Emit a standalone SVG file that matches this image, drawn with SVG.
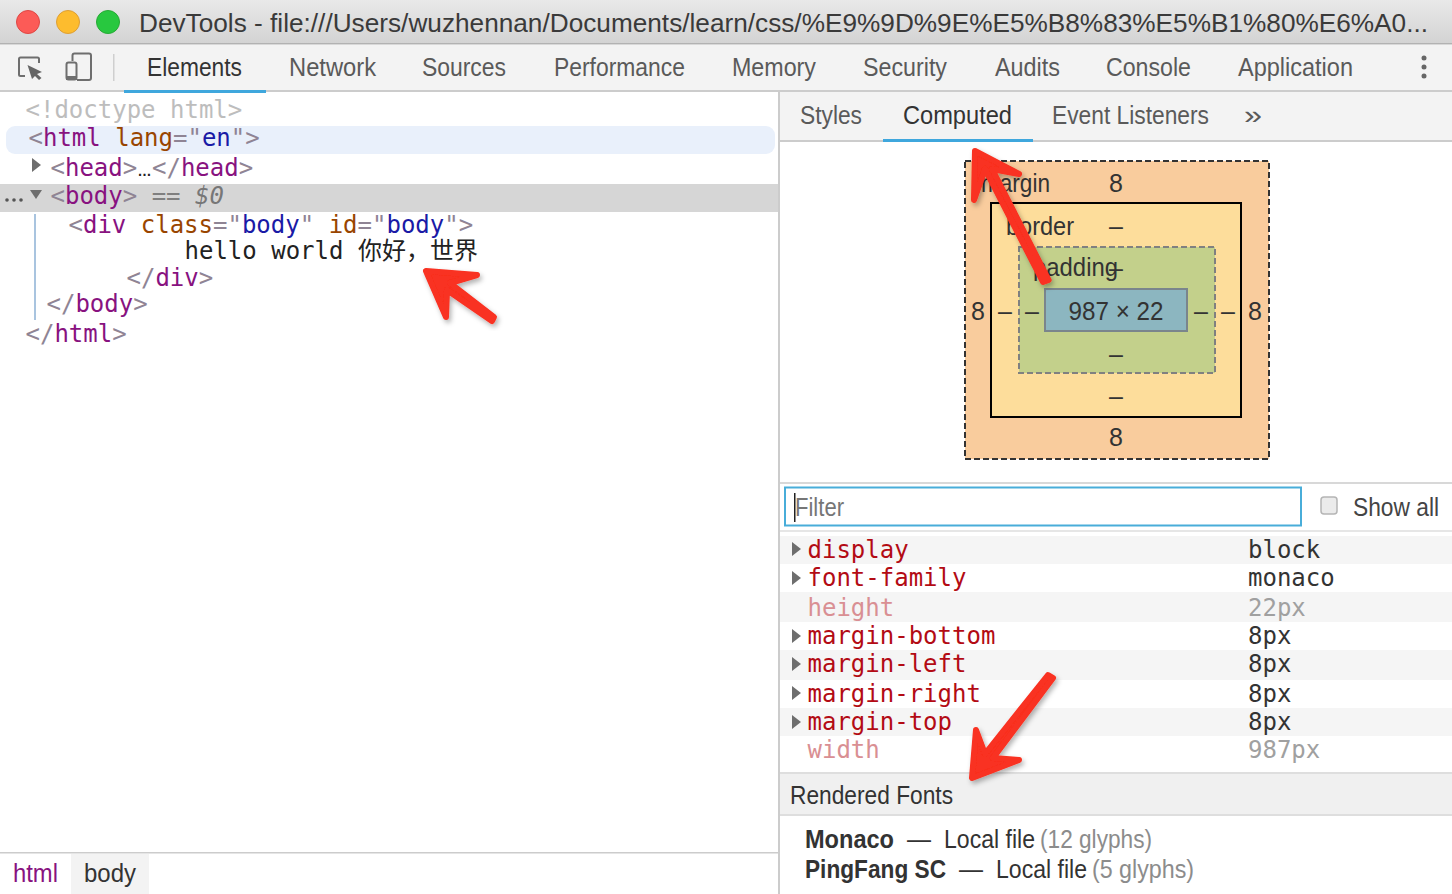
<svg xmlns="http://www.w3.org/2000/svg" width="1452" height="894" viewBox="0 0 1452 894">
<style>
.ui{font-family:"Liberation Sans",Arial,sans-serif;font-size:25px;fill:#333}
.tab{fill:#5a5a5a}
.active{fill:#333}
.m{font-family:"DejaVu Sans Mono","Noto Sans CJK SC",monospace;font-size:24px;white-space:pre}
.b{fill:#8f8494}.t{fill:#881280}.a{fill:#994500}.v{fill:#1a1aa6}.x{fill:#222}
.p{fill:#b30b14}.pd{fill:#d98f93}.val{fill:#333}.vd{fill:#a0a0a0}
.bm{font-family:"Liberation Sans",Arial,sans-serif;font-size:25px;fill:#333;text-anchor:middle}
.tri{fill:#6e6e6e}
.arrow{fill:#f93020;stroke:#f93020;stroke-width:6;stroke-linejoin:round;filter:url(#sh)}
</style>
<defs>
<linearGradient id="tb" x1="0" y1="0" x2="0" y2="1"><stop offset="0" stop-color="#e9e9e9"/><stop offset="1" stop-color="#d3d3d3"/></linearGradient>
<filter id="sh" x="-20%" y="-20%" width="140%" height="140%"><feDropShadow dx="2" dy="3" stdDeviation="2.5" flood-color="#000" flood-opacity="0.3"/></filter>
</defs>
<rect width="1452" height="894" fill="#fff"/>

<g id="titlebar">
<rect width="1452" height="43" fill="url(#tb)"/>
<rect y="43" width="1452" height="1.5" fill="#b2b2b2"/>
<circle cx="28" cy="22" r="11.5" fill="#fc5b57" stroke="#df4744"/>
<circle cx="68" cy="22" r="11.5" fill="#fdbc2e" stroke="#de9f34"/>
<circle cx="108" cy="22" r="11.5" fill="#28c83f" stroke="#27aa35"/>
<text class="ui" x="139" y="32" textLength="1289" lengthAdjust="spacingAndGlyphs" style="fill:#3a3a3a">DevTools - file:///Users/wuzhennan/Documents/learn/css/%E9%9D%9E%E5%B8%83%E5%B1%80%E6%A0...</text>
</g>

<g id="toolbar">
<rect y="45" width="1452" height="46" fill="#f3f3f3"/>
<rect y="90" width="1452" height="2" fill="#cccccc"/>
<rect x="124" y="90" width="142" height="3" fill="#3fa7dd"/>
<path d="M39 63V59Q39 57.500 37.500 57.500H20.500Q19 57.500 19 59V74.500Q19 76 20.500 76H25" fill="none" stroke="#6e6e6e" stroke-width="2"/>
<path d="M27.500 65L42 72L37 74L41.500 78L39 80L35 76L32 79Z" fill="#666"/>
<path d="M72.500 61V55.500Q72.500 53.500 74.500 53.500H89Q91 53.500 91 55.500V78Q91 80 89 80H77" fill="none" stroke="#6e6e6e" stroke-width="2"/>
<rect x="66.500" y="62.500" width="10" height="17" rx="2" fill="none" stroke="#6e6e6e" stroke-width="2"/>
<rect x="66" y="76" width="11" height="4" fill="#6e6e6e"/>
<rect x="113" y="54" width="1.500" height="27" fill="#cfcfcf"/>
<text class="ui active" x="147" y="76" textLength="95" lengthAdjust="spacingAndGlyphs">Elements</text>
<text class="ui tab" x="289" y="76" textLength="87" lengthAdjust="spacingAndGlyphs">Network</text>
<text class="ui tab" x="422" y="76" textLength="84" lengthAdjust="spacingAndGlyphs">Sources</text>
<text class="ui tab" x="554" y="76" textLength="131" lengthAdjust="spacingAndGlyphs">Performance</text>
<text class="ui tab" x="732" y="76" textLength="84" lengthAdjust="spacingAndGlyphs">Memory</text>
<text class="ui tab" x="863" y="76" textLength="84" lengthAdjust="spacingAndGlyphs">Security</text>
<text class="ui tab" x="995" y="76" textLength="65" lengthAdjust="spacingAndGlyphs">Audits</text>
<text class="ui tab" x="1106" y="76" textLength="85" lengthAdjust="spacingAndGlyphs">Console</text>
<text class="ui tab" x="1238" y="76" textLength="115" lengthAdjust="spacingAndGlyphs">Application</text>
<circle cx="1424" cy="58" r="2.500" fill="#666"/><circle cx="1424" cy="67" r="2.500" fill="#666"/><circle cx="1424" cy="76" r="2.500" fill="#666"/>
</g>

<g id="elements-panel">
<rect x="6" y="126" width="769" height="28" rx="9" fill="#e9f0fb"/>
<rect y="184" width="779" height="28" fill="#d6d6d6"/>
<rect x="34" y="214" width="2" height="106" fill="#a9c4df"/>
<text class="m" x="25.500" y="118" fill="#bdbdbd">&lt;!doctype html&gt;</text>
<text class="m" x="28.500" y="146"><tspan class="b">&lt;</tspan><tspan class="t">html</tspan> <tspan class="a">lang</tspan><tspan class="b">="</tspan><tspan class="v">en</tspan><tspan class="b">"&gt;</tspan></text>
<path class="tri" d="M32 158L41 165L32 172Z"/>
<text class="m" x="50.500" y="176"><tspan class="b">&lt;</tspan><tspan class="t">head</tspan><tspan class="b">&gt;</tspan></text>
<text class="ui" x="137.500" y="176" style="font-size:14px;fill:#222;font-weight:bold">…</text>
<text class="m" x="152" y="176"><tspan class="b">&lt;/</tspan><tspan class="t">head</tspan><tspan class="b">&gt;</tspan></text>
<circle cx="7" cy="200" r="1.800" fill="#555"/><circle cx="14" cy="200" r="1.800" fill="#555"/><circle cx="21" cy="200" r="1.800" fill="#555"/>
<path class="tri" d="M30 190H42L36 199Z"/>
<text class="m" x="50.500" y="204"><tspan class="b">&lt;</tspan><tspan class="t">body</tspan><tspan class="b">&gt;</tspan> <tspan fill="#7f7f7f">==</tspan> <tspan fill="#777" font-style="italic">$0</tspan></text>
<text class="m" x="68.500" y="233"><tspan class="b">&lt;</tspan><tspan class="t">div</tspan> <tspan class="a">class</tspan><tspan class="b">="</tspan><tspan class="v">body</tspan><tspan class="b">"</tspan> <tspan class="a">id</tspan><tspan class="b">="</tspan><tspan class="v">body</tspan><tspan class="b">"&gt;</tspan></text>
<text class="m x" x="184.500" y="259">hello world 你好，世界</text>
<text class="m" x="126.500" y="286"><tspan class="b">&lt;/</tspan><tspan class="t">div</tspan><tspan class="b">&gt;</tspan></text>
<text class="m" x="46.500" y="312"><tspan class="b">&lt;/</tspan><tspan class="t">body</tspan><tspan class="b">&gt;</tspan></text>
<text class="m" x="25.500" y="342"><tspan class="b">&lt;/</tspan><tspan class="t">html</tspan><tspan class="b">&gt;</tspan></text>
</g>

<g id="breadcrumbs">
<rect y="852" width="779" height="1.500" fill="#cccccc"/>
<rect x="71" y="854" width="78" height="40" fill="#f3f3f3"/>
<text class="ui" x="13" y="882" textLength="45" lengthAdjust="spacingAndGlyphs" style="fill:#881280">html</text>
<text class="ui" x="84" y="882" textLength="52" lengthAdjust="spacingAndGlyphs">body</text>
</g>

<rect id="splitter" x="778" y="92" width="2" height="802" fill="#cccccc"/>

<g id="sidebar-tabs">
<rect x="780" y="92" width="672" height="49" fill="#f3f3f3"/>
<rect x="780" y="140" width="672" height="2" fill="#cccccc"/>
<rect x="883" y="139" width="150" height="3" fill="#3fa7dd"/>
<text class="ui tab" x="800" y="124" textLength="62" lengthAdjust="spacingAndGlyphs">Styles</text>
<text class="ui active" x="903" y="124" textLength="109" lengthAdjust="spacingAndGlyphs">Computed</text>
<text class="ui tab" x="1052" y="124" textLength="157" lengthAdjust="spacingAndGlyphs">Event Listeners</text>
<text class="ui tab" x="1244" y="124" textLength="18" lengthAdjust="spacingAndGlyphs">»</text>
</g>

<g id="box-model">
<rect x="965" y="161" width="304" height="298" fill="#f9cc9d" stroke="#333" stroke-width="2" stroke-dasharray="6 3"/>
<rect x="991" y="203" width="250" height="214" fill="#fddd9b" stroke="#000" stroke-width="2"/>
<rect x="1019" y="247" width="196" height="126" fill="#c3d08b" stroke="#808080" stroke-width="2" stroke-dasharray="6 3"/>
<rect x="1045" y="289" width="142" height="42" fill="#8cb6c0" stroke="#7a858c" stroke-width="2"/>
<text class="ui" x="981" y="192" textLength="69" lengthAdjust="spacingAndGlyphs">margin</text>
<text class="ui" x="1006" y="235" textLength="68" lengthAdjust="spacingAndGlyphs">border</text>
<text class="ui" x="1033" y="276" textLength="85" lengthAdjust="spacingAndGlyphs">padding</text>
<text class="bm" x="1116" y="192">8</text>
<text class="bm" x="1116" y="235">–</text>
<text class="bm" x="1116" y="277">–</text>
<text class="bm" x="1116" y="320" textLength="95" lengthAdjust="spacingAndGlyphs">987 × 22</text>
<text class="bm" x="1116" y="363">–</text>
<text class="bm" x="1116" y="405">–</text>
<text class="bm" x="1116" y="446">8</text>
<text class="bm" x="978" y="320">8</text><text class="bm" x="1005" y="320">–</text><text class="bm" x="1032" y="320">–</text>
<text class="bm" x="1201" y="320">–</text><text class="bm" x="1228" y="320">–</text><text class="bm" x="1255" y="320">8</text>
</g>

<g id="filter-bar">
<rect x="780" y="482" width="672" height="2" fill="#d8d8d8"/>
<rect x="785" y="487.500" width="516" height="38" fill="#fff" stroke="#48add9" stroke-width="2"/>
<rect x="794" y="493" width="1.500" height="29" fill="#222"/>
<text class="ui" x="795" y="516" textLength="49" lengthAdjust="spacingAndGlyphs" style="fill:#767676">Filter</text>
<rect x="1321" y="497" width="16" height="17" rx="3" fill="#ebebeb" stroke="#b5b5b5" stroke-width="1.500"/>
<text class="ui" x="1353" y="516" textLength="86" lengthAdjust="spacingAndGlyphs" style="fill:#444">Show all</text>
<rect x="780" y="530" width="672" height="2" fill="#e6e6e6"/>
</g>

<g id="computed-list">
<rect x="780" y="536" width="672" height="28" fill="#f5f5f5"/>
<rect x="780" y="592" width="672" height="30" fill="#f5f5f5"/>
<rect x="780" y="650" width="672" height="30" fill="#f5f5f5"/>
<rect x="780" y="708" width="672" height="28" fill="#f5f5f5"/>
<path class="tri" d="M792 542L801 549L792 556Z"/><path class="tri" d="M792 571L801 578L792 585Z"/><path class="tri" d="M792 629L801 636L792 643Z"/><path class="tri" d="M792 657L801 664L792 671Z"/><path class="tri" d="M792 686L801 693L792 700Z"/><path class="tri" d="M792 715L801 722L792 729Z"/>
<text class="m p" x="807.500" y="558">display</text><text class="m val" x="1248" y="558">block</text>
<text class="m p" x="807.500" y="586">font-family</text><text class="m val" x="1248" y="586">monaco</text>
<text class="m pd" x="807.500" y="616">height</text><text class="m vd" x="1248" y="616">22px</text>
<text class="m p" x="807.500" y="644">margin-bottom</text><text class="m val" x="1248" y="644">8px</text>
<text class="m p" x="807.500" y="672">margin-left</text><text class="m val" x="1248" y="672">8px</text>
<text class="m p" x="807.500" y="702">margin-right</text><text class="m val" x="1248" y="702">8px</text>
<text class="m p" x="807.500" y="730">margin-top</text><text class="m val" x="1248" y="730">8px</text>
<text class="m pd" x="807.500" y="758">width</text><text class="m vd" x="1248" y="758">987px</text>
</g>

<g id="rendered-fonts">
<rect x="780" y="773" width="672" height="42" fill="#f0f0f0"/>
<rect x="780" y="772" width="672" height="2" fill="#dedede"/>
<rect x="780" y="814" width="672" height="2" fill="#dedede"/>
<text class="ui" x="790" y="804" textLength="163" lengthAdjust="spacingAndGlyphs">Rendered Fonts</text>
<text class="ui" x="805" y="848" textLength="89" lengthAdjust="spacingAndGlyphs" style="font-weight:bold">Monaco</text>
<text class="ui" x="907" y="848" textLength="24" lengthAdjust="spacingAndGlyphs">—</text>
<text class="ui" x="944" y="848" textLength="91" lengthAdjust="spacingAndGlyphs">Local file</text>
<text class="ui" x="1040" y="848" textLength="112" lengthAdjust="spacingAndGlyphs" style="fill:#8c8c8c">(12 glyphs)</text>
<text class="ui" x="805" y="878" textLength="141" lengthAdjust="spacingAndGlyphs" style="font-weight:bold">PingFang SC</text>
<text class="ui" x="959" y="878" textLength="24" lengthAdjust="spacingAndGlyphs">—</text>
<text class="ui" x="996" y="878" textLength="91" lengthAdjust="spacingAndGlyphs">Local file</text>
<text class="ui" x="1092" y="878" textLength="102" lengthAdjust="spacingAndGlyphs" style="fill:#8c8c8c">(5 glyphs)</text>
</g>

<g id="connectors">
<path class="arrow" d="M426 271L477 275L450 283L494 317L492 321L447 290L446 317Z"/>
<path class="arrow" d="M975 151L1019 174L992 169L1048.600 280L1043 282L985 169L974 200Z"/>
<path class="arrow" d="M972 778L976 730L985 754L1048 675L1053 678L993 758L1019 760Z"/>
</g>
</svg>
